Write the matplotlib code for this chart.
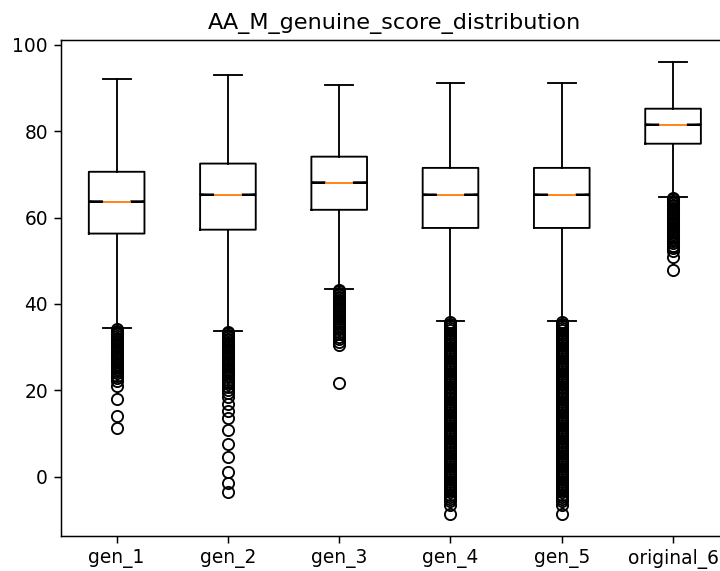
import matplotlib
matplotlib.use("Agg")
import matplotlib.pyplot as plt

# values
labels = ["gen_1", "gen_2", "gen_3", "gen_4", "gen_5", "original_6"]
medians = [63.7, 65.3, 68.1, 65.3, 65.3, 81.5]
q1 = [56.3, 57.2, 61.8, 57.6, 57.6, 77.1]
q3 = [70.6, 72.5, 74.1, 71.5, 71.5, 85.2]
whisker_lo = [34.5, 33.8, 43.5, 36.1, 36.1, 64.8]
whisker_hi = [92.1, 93.1, 90.7, 91.2, 91.2, 96.1]
notch_half = [0.12, 0.12, 0.12, 0.12, 0.12, 0.12]

fliers_gen_1 = [34.2, 33.8, 33.4, 33.0, 32.6, 32.2, 31.8, 31.4, 31.0, 30.6,
                30.2, 29.8, 29.4, 29.0, 28.6, 28.2, 27.8, 27.4, 27.0, 26.6,
                26.2, 25.8, 25.4, 25.0, 24.5, 24.0, 23.4, 22.8, 22.2, 21.1,
                18.1, 14.1, 11.4]
fliers_gen_2 = [33.6, 33.2, 32.8, 32.4, 32.0, 31.6, 31.2, 30.8, 30.4, 30.0,
                29.6, 29.2, 28.8, 28.4, 28.0, 27.6, 27.2, 26.8, 26.4, 26.0,
                25.6, 25.2, 24.8, 24.4, 24.0, 23.5, 23.0, 22.5, 22.0, 21.5,
                20.8, 20.1, 19.3, 18.4, 16.9, 15.3, 13.7, 10.8, 7.7, 4.5,
                1.0, -1.5, -3.6]
fliers_gen_3 = [43.3, 42.9, 42.5, 42.1, 41.7, 41.3, 40.9, 40.5, 40.1, 39.7,
                39.3, 38.9, 38.5, 38.1, 37.7, 37.3, 36.9, 36.5, 36.1, 35.6,
                35.1, 34.6, 34.1, 33.6, 33.0, 32.4, 31.8, 31.2, 30.5, 21.6]
fliers_gen_4 = [35.9, 35.4, 34.9, 34.4, 33.9, 33.4, 32.9, 32.4, 31.9, 31.4,
                30.9, 30.4, 29.9, 29.4, 28.9, 28.4, 27.9, 27.4, 26.9, 26.4,
                25.9, 25.4, 24.9, 24.4, 23.9, 23.4, 22.9, 22.4, 21.9, 21.4,
                20.9, 20.4, 19.9, 19.4, 18.9, 18.4, 17.9, 17.4, 16.9, 16.4,
                15.9, 15.4, 14.9, 14.4, 13.9, 13.4, 12.9, 12.4, 11.9, 11.4,
                10.9, 10.4, 9.9, 9.4, 8.9, 8.4, 7.9, 7.4, 6.9, 6.4,
                5.9, 5.4, 4.9, 4.4, 3.9, 3.4, 2.9, 2.4, 1.9, 1.4,
                0.9, 0.4, -0.1, -0.6, -1.1, -1.6, -2.1, -2.6, -3.1, -3.6,
                -4.1, -4.6, -5.1, -5.6, -6.6, -8.6]
fliers_gen_5 = [35.9, 35.4, 34.9, 34.4, 33.9, 33.4, 32.9, 32.4, 31.9, 31.4,
                30.9, 30.4, 29.9, 29.4, 28.9, 28.4, 27.9, 27.4, 26.9, 26.4,
                25.9, 25.4, 24.9, 24.4, 23.9, 23.4, 22.9, 22.4, 21.9, 21.4,
                20.9, 20.4, 19.9, 19.4, 18.9, 18.4, 17.9, 17.4, 16.9, 16.4,
                15.9, 15.4, 14.9, 14.4, 13.9, 13.4, 12.9, 12.4, 11.9, 11.4,
                10.9, 10.4, 9.9, 9.4, 8.9, 8.4, 7.9, 7.4, 6.9, 6.4,
                5.9, 5.4, 4.9, 4.4, 3.9, 3.4, 2.9, 2.4, 1.9, 1.4,
                0.9, 0.4, -0.1, -0.6, -1.1, -1.6, -2.1, -2.6, -3.1, -3.6,
                -4.1, -4.6, -5.1, -5.6, -6.6, -8.6]
fliers_original_6 = [64.6, 64.2, 63.8, 63.4, 63.0, 62.6, 62.2, 61.8, 61.4,
                     61.0, 60.6, 60.2, 59.8, 59.4, 59.0, 58.6, 58.2, 57.8,
                     57.4, 57.0, 56.6, 56.2, 55.8, 55.4, 55.0, 54.5, 54.0,
                     53.5, 53.0, 52.3, 50.8, 47.8]
fliers = [fliers_gen_1, fliers_gen_2, fliers_gen_3,
          fliers_gen_4, fliers_gen_5, fliers_original_6]

stats = []
for i, name in enumerate(labels):
    stats.append({
        "label": name,
        "med": medians[i],
        "q1": q1[i],
        "q3": q3[i],
        "whislo": whisker_lo[i],
        "whishi": whisker_hi[i],
        "cilo": medians[i] - notch_half[i],
        "cihi": medians[i] + notch_half[i],
        "fliers": fliers[i],
    })

dpi = 134.4
fig = plt.figure(figsize=(720 / dpi, 571 / dpi), dpi=dpi)
ax = fig.add_axes([61 / 720, 35 / 571, 667.7 / 720, 496 / 571])
ax.bxp(stats, shownotches=True)
ax.set_ylim(-13.7, 101.1)
ax.set_title("AA_M_genuine_score_distribution")
fig.savefig("out.png", dpi=dpi)
